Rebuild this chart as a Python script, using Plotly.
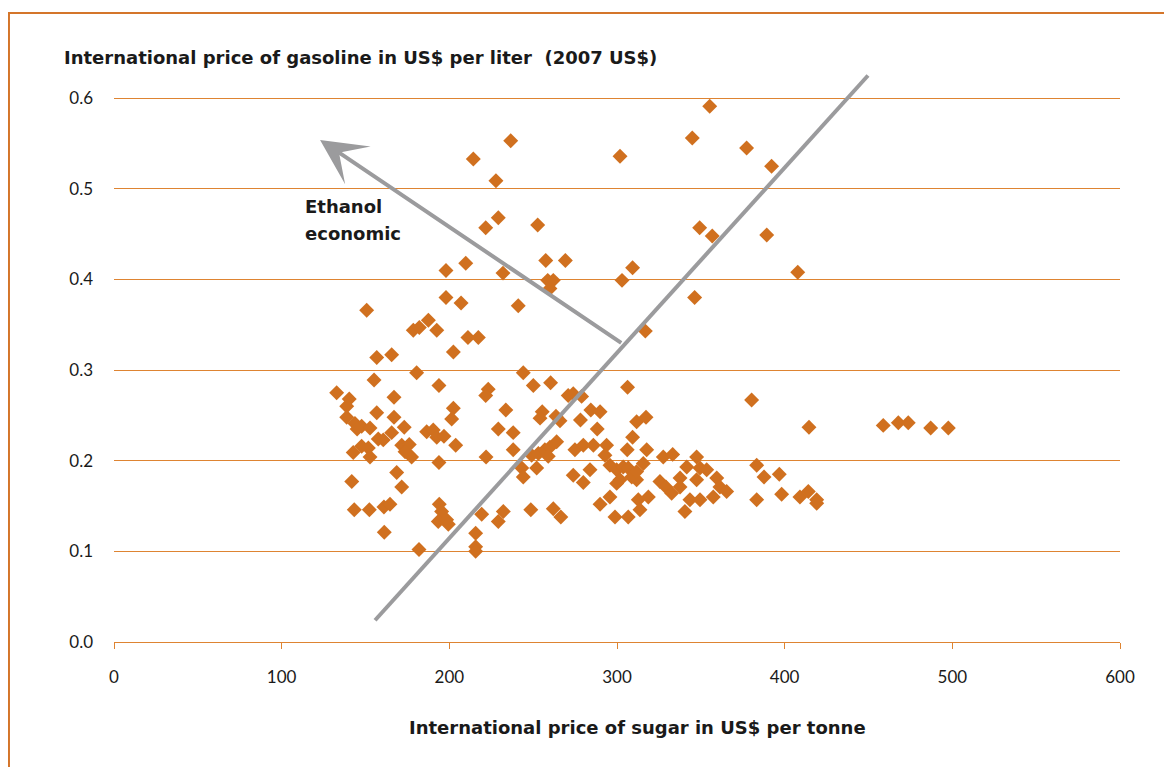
import plotly.graph_objects as go

# International price of sugar (US$ per tonne)
sugar_price = [
    355.3, 344.9, 236.6, 301.8, 377.3, 392.2, 214.3, 227.8, 229.2, 221.7,
    252.7, 349.3, 356.8, 389.3, 209.8, 198.0, 257.5, 269.2, 232.0, 309.3,
    303.0, 258.7, 262.0, 260.0, 407.8, 198.0, 207.0, 241.1, 346.3, 150.7,
    187.5, 178.5, 182.1, 192.5, 211.1, 217.3, 202.4, 156.7, 165.6, 316.9,
    180.5, 244.1, 155.1, 193.8, 260.4, 250.1, 223.2, 221.7, 270.9, 273.9,
    278.9, 306.3, 132.8, 140.3, 167.0, 138.8, 202.4, 156.7, 138.8, 167.0,
    201.4, 143.7, 147.7, 152.7, 145.0, 173.1, 165.6, 157.6, 160.6, 186.5,
    190.4, 192.5, 196.8, 203.8, 142.7, 147.7, 151.7, 152.7, 171.6, 176.1,
    173.6, 177.5, 193.8, 168.6, 141.8, 171.6, 143.3, 152.3, 161.0, 164.6,
    194.0, 195.4, 193.4, 198.4, 199.4, 161.2, 181.9, 221.9, 229.2, 238.1,
    238.1, 255.4, 254.1, 263.6, 266.0, 278.2, 284.4, 289.9, 288.2, 233.7,
    309.3, 311.7, 317.3, 249.1, 253.1, 257.0, 260.0, 264.0, 259.0, 243.2,
    244.1, 252.1, 274.9, 279.9, 285.9, 293.8, 292.8, 295.8, 306.1, 317.7,
    273.9, 279.9, 283.9, 299.8, 303.7, 306.7, 308.8, 311.7, 301.8, 299.8,
    311.7, 315.7, 327.6, 333.2, 325.6, 329.2, 332.6, 337.6, 337.6, 341.6,
    347.5, 349.5, 353.5, 347.5, 359.5, 361.4, 365.4, 343.5, 349.5, 357.4,
    380.3, 414.5, 458.8, 467.8, 473.7, 487.1, 497.6, 383.3, 387.7, 396.8,
    383.3, 398.2, 409.1, 414.1, 419.1, 419.1, 289.9, 295.8, 298.8, 306.7,
    312.7, 313.7, 318.7, 340.5, 219.3, 232.2, 229.2, 248.6, 262.0, 266.5,
    215.7, 215.7, 215.7,
]

# International price of gasoline (US$ per liter, 2007 US$)
gasoline_price = [
    0.591, 0.556, 0.553, 0.536, 0.545, 0.525, 0.533, 0.509, 0.468, 0.457,
    0.460, 0.457, 0.448, 0.449, 0.418, 0.410, 0.421, 0.421, 0.407, 0.413,
    0.399, 0.399, 0.399, 0.390, 0.408, 0.380, 0.374, 0.371, 0.380, 0.366,
    0.355, 0.344, 0.347, 0.344, 0.336, 0.336, 0.320, 0.314, 0.317, 0.343,
    0.297, 0.297, 0.289, 0.283, 0.286, 0.283, 0.279, 0.272, 0.272, 0.274,
    0.271, 0.281, 0.275, 0.268, 0.270, 0.260, 0.258, 0.253, 0.248, 0.248,
    0.246, 0.241, 0.238, 0.236, 0.235, 0.237, 0.231, 0.224, 0.223, 0.232,
    0.234, 0.226, 0.227, 0.217, 0.209, 0.216, 0.214, 0.204, 0.217, 0.218,
    0.210, 0.204, 0.198, 0.187, 0.177, 0.171, 0.146, 0.146, 0.149, 0.152,
    0.152, 0.144, 0.133, 0.135, 0.130, 0.121, 0.102, 0.204, 0.235, 0.231,
    0.212, 0.254, 0.247, 0.249, 0.244, 0.245, 0.256, 0.254, 0.235, 0.256,
    0.226, 0.243, 0.248, 0.206, 0.208, 0.212, 0.215, 0.221, 0.205, 0.192,
    0.182, 0.192, 0.212, 0.217, 0.217, 0.217, 0.206, 0.195, 0.212, 0.212,
    0.184, 0.176, 0.190, 0.190, 0.193, 0.192, 0.182, 0.179, 0.179, 0.175,
    0.188, 0.197, 0.204, 0.207, 0.177, 0.171, 0.164, 0.181, 0.171, 0.193,
    0.204, 0.192, 0.190, 0.179, 0.181, 0.171, 0.166, 0.157, 0.157, 0.160,
    0.267, 0.237, 0.239, 0.242, 0.242, 0.236, 0.236, 0.195, 0.182, 0.185,
    0.157, 0.163, 0.160, 0.166, 0.153, 0.157, 0.152, 0.160, 0.138, 0.138,
    0.157, 0.146, 0.160, 0.144, 0.141, 0.144, 0.133, 0.146, 0.147, 0.138,
    0.120, 0.105, 0.100,
]

# Break-even line (sugar, gasoline) end points and the "ethanol economic" arrow
breakeven_sugar = [155.7, 449.7]
breakeven_gasoline = [0.024, 0.625]
arrow_tail = (303.4, 0.329)
arrow_head = (122.9, 0.554)

x_ticks = [0, 100, 200, 300, 400, 500, 600]
y_ticks = [0.0, 0.1, 0.2, 0.3, 0.4, 0.5, 0.6]
y_tick_labels = ["0.0", "0.1", "0.2", "0.3", "0.4", "0.5", "0.6"]

ORANGE = "#D0701F"
GRID = "#DE8432"
GREY = "#9B9B9D"
TEXT = "#1a1a1a"
TICK_FONT = "Lato"
TITLE_FONT = "DejaVu Sans"

fig = go.Figure()
fig.add_trace(go.Scatter(
    x=sugar_price, y=gasoline_price, mode="markers",
    marker=dict(symbol="diamond", size=11.5, color=ORANGE, line=dict(width=0)),
    showlegend=False, hoverinfo="x+y",
))
fig.add_trace(go.Scatter(
    x=breakeven_sugar, y=breakeven_gasoline, mode="lines",
    line=dict(color=GREY, width=4), showlegend=False, hoverinfo="skip",
))

fig.add_annotation(
    x=arrow_head[0], y=arrow_head[1], ax=arrow_tail[0], ay=arrow_tail[1],
    xref="x", yref="y", axref="x", ayref="y", text="",
    showarrow=True, arrowhead=3, arrowwidth=4, arrowsize=1.9,
    arrowcolor=GREY, standoff=0, startstandoff=0,
)
fig.add_annotation(x=112.7, y=0.481, xref="x", yref="y", text="<b>Ethanol</b>",
                   showarrow=False, xanchor="left", yanchor="middle",
                   font=dict(family=TITLE_FONT, size=18, color=TEXT))
fig.add_annotation(x=112.7, y=0.451, xref="x", yref="y", text="<b>economic</b>",
                   showarrow=False, xanchor="left", yanchor="middle",
                   font=dict(family=TITLE_FONT, size=18, color=TEXT))

# axis titles
fig.add_annotation(x=-0.0517, y=1.0245, xref="paper", yref="paper",
                   text="<b>International price of gasoline in US$ per liter  (2007 US$)</b>",
                   showarrow=False, xanchor="left", yanchor="middle",
                   font=dict(family=TITLE_FONT, size=18, color=TEXT))
fig.add_annotation(x=0.52, y=-0.1506, xref="paper", yref="paper",
                   text="<b>International price of sugar in US$ per tonne</b>",
                   showarrow=False, xanchor="center", yanchor="middle",
                   font=dict(family=TITLE_FONT, size=18, color=TEXT))

# frame
fig.add_shape(type="rect", xref="paper", yref="paper",
              x0=-0.1044, x1=1.08, y0=-0.26, y1=1.1016,
              line=dict(color="#D4752A", width=2), fillcolor="rgba(0,0,0,0)")

fig.update_xaxes(
    range=[0, 600], tickvals=x_ticks, showgrid=False, zeroline=False,
    showline=True, linecolor=GRID, linewidth=1,
    ticks="outside", ticklen=6, tickcolor=GRID, tickwidth=1,
    ticklabelstandoff=14,
    tickfont=dict(family=TICK_FONT, size=17, color=TEXT),
)
fig.update_yaxes(
    range=[0, 0.63], tickvals=y_ticks, ticktext=y_tick_labels,
    showgrid=True, gridcolor=GRID, gridwidth=1, zeroline=False, showline=False,
    ticklabelstandoff=20,
    tickfont=dict(family=TICK_FONT, size=17, color=TEXT),
)
fig.update_layout(
    width=1164, height=759,
    margin=dict(l=106, r=52, t=63, b=125),
    paper_bgcolor="white", plot_bgcolor="white",
    font=dict(family=TICK_FONT, color=TEXT),
)

fig.write_html("out.html")
